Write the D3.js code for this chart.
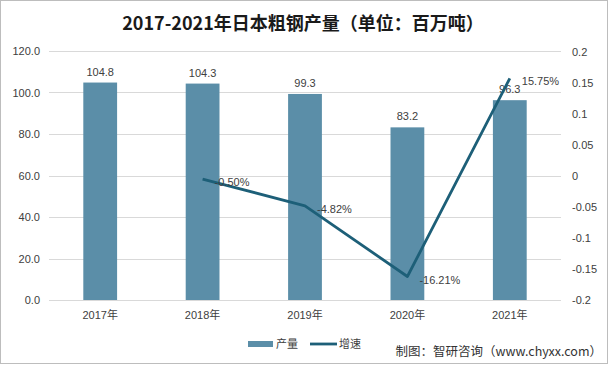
<!DOCTYPE html>
<html><head><meta charset="utf-8">
<script src="https://cdn.jsdelivr.net/npm/d3@7"></script>
<style>body{margin:0;background:#fff;}svg{display:block;}</style>
</head><body><svg id="c" width="608" height="366"></svg>
<script>
const years = ["2017年","2018年","2019年","2020年","2021年"];
const output = [104.8,104.3,99.3,83.2,96.3];
const growthYears = ["2018年","2019年","2020年","2021年"];
const growth = [-0.0050,-0.0482,-0.1621,0.1575];
const growthLabels = ["-0.50%","-4.82%","-16.21%","15.75%"];
const leftTicks = [0,20,40,60,80,100,120];
const rightTicks = [-0.2,-0.15,-0.1,-0.05,0,0.05,0.1,0.15,0.2];

const svg = d3.select("#c");
const font = "'Liberation Sans','Noto Sans CJK SC',sans-serif";
const W=608,H=366;
svg.append("rect").attr("x",0.5).attr("y",0.5).attr("width",W-1).attr("height",H-3).attr("fill","#fff").attr("stroke","#bdbdbd");

const x0=49,x1=561,yTop=51,yBot=300;
const x = d3.scaleBand().domain(years).range([x0,x1]).paddingInner(0.67).paddingOuter(0.335);
const yL = d3.scaleLinear().domain([0,120]).range([yBot,yTop]);
const yR = d3.scaleLinear().domain([-0.2,0.2]).range([yBot,yTop+1]);

svg.append("text").attr("x",303).attr("y",30).attr("text-anchor","middle")
  .attr("font-family","'Noto Sans CJK SC',sans-serif").attr("font-weight","bold").attr("font-size",18)
  .attr("fill","#1a1a1a").text("2017-2021年日本粗钢产量（单位：百万吨）");

// gridlines
svg.append("g").selectAll("line").data(leftTicks).join("line")
  .attr("x1",x0).attr("x2",x1).attr("y1",d=>Math.round(yL(d))+0.5).attr("y2",d=>Math.round(yL(d))+0.5)
  .attr("stroke","#d9d9d9").attr("stroke-width",1);

// left axis
const gl = svg.append("g").attr("transform",`translate(${x0-9},0)`)
  .call(d3.axisLeft(yL).tickValues(leftTicks).tickFormat(d3.format(".1f")).tickSize(0).tickPadding(0));
gl.select(".domain").remove();
gl.selectAll("text").attr("font-family",font).attr("font-size",11).attr("fill","#404040");

// right axis
const gr = svg.append("g").attr("transform",`translate(${x1+11},0)`)
  .call(d3.axisRight(yR).tickValues(rightTicks).tickFormat(d=>String(+d.toFixed(2))).tickSize(0).tickPadding(0));
gr.select(".domain").remove();
gr.selectAll("text").attr("font-family",font).attr("font-size",11).attr("fill","#404040");

// x axis
const gx = svg.append("g").attr("transform",`translate(0,${yBot})`)
  .call(d3.axisBottom(x).tickSize(0).tickPadding(11));
gx.select(".domain").remove();
gx.selectAll("text").attr("font-family",font).attr("font-size",11).attr("fill","#404040");

// bars
svg.append("g").selectAll("rect").data(output).join("rect")
  .attr("x",(d,i)=>x(years[i])).attr("width",x.bandwidth())
  .attr("y",d=>yL(d)).attr("height",d=>yBot-yL(d)).attr("fill","#5b8ea8");
svg.append("g").selectAll("text").data(output).join("text")
  .attr("x",(d,i)=>x(years[i])+x.bandwidth()/2).attr("y",d=>yL(d)-7)
  .attr("text-anchor","middle").attr("font-family",font).attr("font-size",11).attr("fill","#404040")
  .text(d=>d.toFixed(1));

// line
const cx = d=>x(d)+x.bandwidth()/2;
const line = d3.line().x((d,i)=>cx(growthYears[i])).y(d=>yR(d));
svg.append("path").datum(growth).attr("d",line).attr("fill","none")
  .attr("stroke","#1d5f78").attr("stroke-width",2.8).attr("stroke-linejoin","round");
svg.append("g").selectAll("text").data(growth).join("text")
  .attr("x",(d,i)=>cx(growthYears[i])+12).attr("y",d=>yR(d)+7)
  .attr("font-family",font).attr("font-size",11).attr("fill","#404040")
  .text((d,i)=>growthLabels[i]);

// legend
svg.append("rect").attr("x",248).attr("y",341).attr("width",25).attr("height",6).attr("fill","#5b8ea8");
svg.append("text").attr("x",276).attr("y",348).attr("font-family","'Noto Sans CJK SC',sans-serif").attr("font-size",11).attr("fill","#404040").text("产量");
svg.append("line").attr("x1",310).attr("x2",337).attr("y1",344).attr("y2",344).attr("stroke","#1d5f78").attr("stroke-width",2.8);
svg.append("text").attr("x",339).attr("y",348).attr("font-family","'Noto Sans CJK SC',sans-serif").attr("font-size",11).attr("fill","#404040").text("增速");

// source
svg.append("text").attr("x",602).attr("y",356).attr("text-anchor","end")
  .attr("font-family","'Noto Sans CJK SC',sans-serif").attr("font-size",12.5).attr("fill","#333")
  .text("制图：智研咨询（www.chyxx.com）");
</script></body></html>
